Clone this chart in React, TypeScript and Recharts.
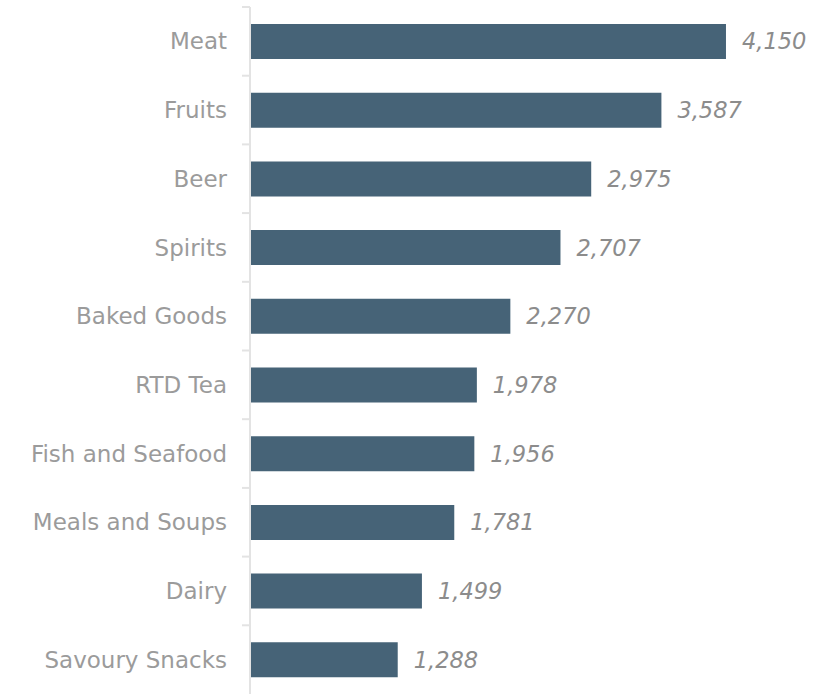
import { BarChart, Bar, XAxis, YAxis, LabelList } from 'recharts';

const categories = [
  'Meat',
  'Fruits',
  'Beer',
  'Spirits',
  'Baked Goods',
  'RTD Tea',
  'Fish and Seafood',
  'Meals and Soups',
  'Dairy',
  'Savoury Snacks',
];
const values = [4150, 3587, 2975, 2707, 2270, 1978, 1956, 1781, 1499, 1288];

const data = categories.map((name, i) => ({ name, value: values[i] }));

const WIDTH = 817;
const HEIGHT = 694;
const MARGIN = { top: 7, right: 5, bottom: 0, left: 0 };
const AXIS_WIDTH = 250;
const BAND = (HEIGHT - MARGIN.top - MARGIN.bottom) / categories.length;
const FONT = '"DejaVu Sans", sans-serif';

function CategoryTick(props: any) {
  const { x, y, payload } = props;
  return (
    <g>
      <line x1={x} x2={x + 8} y1={y - BAND / 2} y2={y - BAND / 2} stroke="#e3e3e3" strokeWidth={2} />
      <text
        x={x - 15}
        y={y}
        dy="0.35em"
        textAnchor="end"
        fill="#9b9b9b"
        fontSize={23}
        fontFamily={FONT}
      >
        {payload.value}
      </text>
    </g>
  );
}

export default function App() {
  return (
    <div style={{ position: 'absolute', left: 0, top: 0, background: '#fff' }}>
      <BarChart width={WIDTH} height={HEIGHT} data={data} layout="vertical" margin={MARGIN}>
        <XAxis type="number" domain={[0, 4900]} hide />
        <YAxis
          type="category"
          dataKey="name"
          width={AXIS_WIDTH}
          axisLine={{ stroke: '#e3e3e3', strokeWidth: 2 }}
          tickLine={false}
          tick={<CategoryTick />}
          interval={0}
        />
        <Bar dataKey="value" fill="#466377" barSize={35} isAnimationActive={false}>
          <LabelList
            dataKey="value"
            position="right"
            offset={16}
            formatter={(v: any) => Number(v).toLocaleString('en-US')}
            style={{ fill: '#8c8c8c', fontSize: 22.5, fontStyle: 'italic', fontFamily: FONT }}
          />
        </Bar>
      </BarChart>
    </div>
  );
}
